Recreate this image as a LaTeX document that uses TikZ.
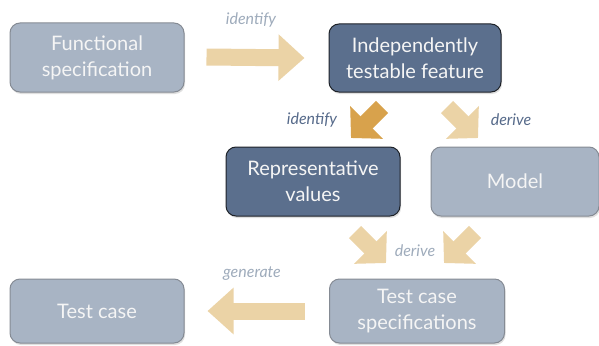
\documentclass[tikz,border=0pt]{standalone}
\usepackage{fontspec}
\setmainfont{Lato}
\usetikzlibrary{arrows.meta,shadows}
\definecolor{lightbox}{HTML}{A8B4C4}
\definecolor{lightborder}{HTML}{858B94}
\definecolor{darkbox}{HTML}{5B6F8D}
\definecolor{darkborder}{HTML}{1E2228}
\definecolor{tan}{HTML}{EBD3A6}
\definecolor{darktan}{HTML}{D8A24C}
\definecolor{lightlabel}{HTML}{9EABBB}
\definecolor{darklabel}{HTML}{566A8A}
\tikzset{
  box/.style={rounded corners=10pt, text=white!96!black, align=center, line width=1pt,
    font=\fontsize{20}{26}\selectfont,
    drop shadow={opacity=0.25, shadow xshift=1pt, shadow yshift=-2pt}},
  lightb/.style={box, fill=lightbox, draw=lightborder},
  darkb/.style={box, fill=darkbox, draw=darkborder},
  blockarrow/.style={line width=17pt, draw=tan, -{Triangle[length=26pt,width=45pt]}},
  diagarrow/.style={line width=17pt, draw=tan, -{Triangle[length=22pt,width=45pt]}},
  lbl/.style={font=\itshape\fontsize{16}{18}\selectfont, text=lightlabel},
  dlbl/.style={font=\itshape\fontsize{16}{18}\selectfont, text=darklabel},
}
\begin{document}
\begin{tikzpicture}[x=1pt,y=-1pt]
\useasboundingbox (0,0) rectangle (599,345);
\node[lightb, minimum width=174pt, minimum height=69pt] (fs) at (97,57.5) {Functional\\specification};
\node[darkb, minimum width=172pt, minimum height=68pt] (itf) at (415,58) {Independently\\testable feature};
\node[darkb, minimum width=174pt, minimum height=69pt] (rv) at (313,181.5) {Representative\\values};
\node[lightb, minimum width=168pt, minimum height=69pt] (model) at (515,181.5) {Model};
\node[lightb, minimum width=174pt, minimum height=64pt] (tc) at (97,311) {Test case};
\node[lightb, minimum width=175pt, minimum height=64pt] (tcs) at (417,311) {Test case\\specifications};

\draw[blockarrow] ([xshift=22pt,yshift=0.5pt]fs.east) -- ([xshift=-24pt]itf.west);
\draw[blockarrow] ([xshift=-24.5pt]tcs.west) -- ([xshift=23pt]tc.east);

\coordinate (d1s) at (382,107);
\coordinate (d1e) at (351,138);
\coordinate (d2s) at (447,107);
\coordinate (d2e) at (478,138);
\coordinate (d3s) at (355,232);
\coordinate (d3e) at (386,263);
\coordinate (d4s) at (475,232);
\coordinate (d4e) at (444,263);
\draw[diagarrow, draw=darktan] (d1s) -- (d1e);
\draw[diagarrow] (d2s) -- (d2e);
\draw[diagarrow] (d3s) -- (d3e);
\draw[diagarrow] (d4s) -- (d4e);

\node[lbl] (l1) at (251,20) {identify};
\node[dlbl] (l2) at (312,120) {identify};
\node[dlbl] (l3) at (511,120) {derive};
\node[lbl] (l4) at (415,251) {derive};
\node[lbl] (l5) at (252,274) {generate};
\end{tikzpicture}
\end{document}
